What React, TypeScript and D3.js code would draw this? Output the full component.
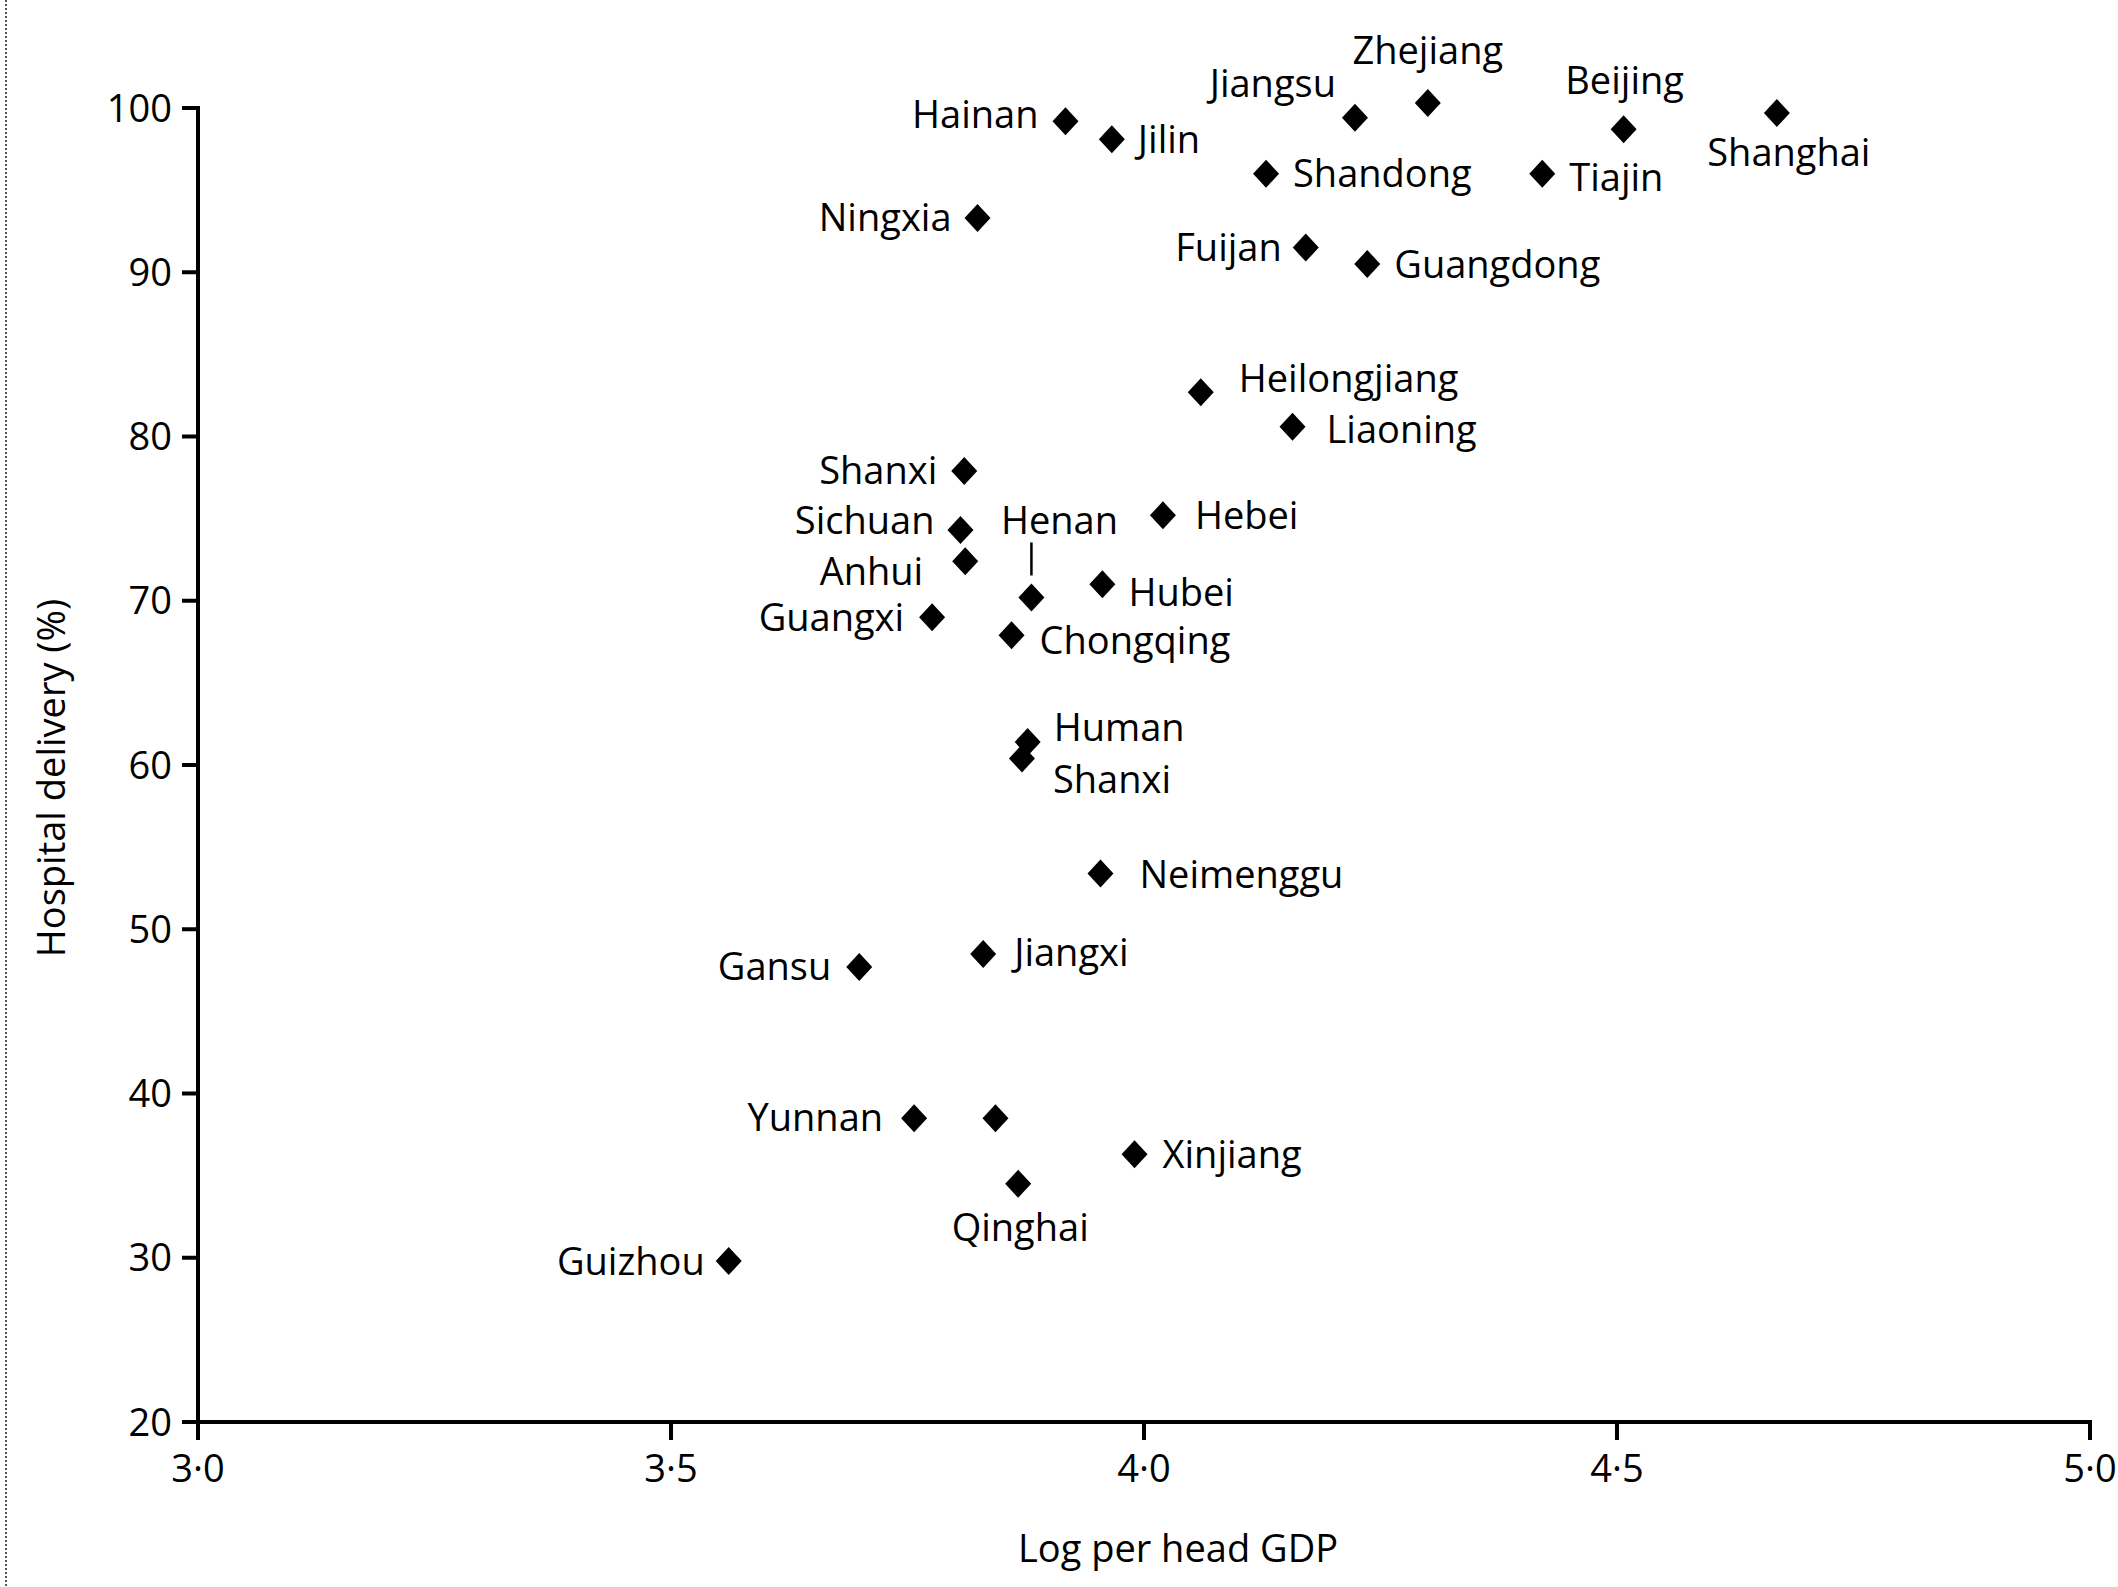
import React from "react";
import * as d3 from "d3";

// ---- data ----
const provinces = [
  "Hainan", "Jilin", "Jiangsu", "Zhejiang", "Beijing", "Shanghai", "Shandong", "Tiajin",
  "Ningxia", "Fuijan", "Guangdong", "Heilongjiang", "Liaoning", "Shanxi", "Hebei", "Sichuan",
  "Anhui", "Henan", "Hubei", "Guangxi", "Chongqing", "Human", "Shanxi ", "Neimenggu",
  "Jiangxi", "Gansu", "Yunnan", "", "Xinjiang", "Qinghai", "Guizhou",
];
const logGdp = [
  3.917, 3.966, 4.223, 4.300, 4.507, 4.669, 4.129, 4.421,
  3.824, 4.171, 4.236, 4.060, 4.157, 3.810, 4.020, 3.806,
  3.811, 3.881, 3.956, 3.776, 3.860, 3.877, 3.871, 3.954,
  3.830, 3.699, 3.757, 3.843, 3.990, 3.867, 3.561,
];
const hospitalDelivery = [
  99.2, 98.1, 99.4, 100.3, 98.7, 99.7, 96.0, 96.0,
  93.3, 91.5, 90.5, 82.7, 80.6, 77.9, 75.2, 74.3,
  72.4, 70.2, 71.0, 69.0, 67.9, 61.4, 60.4, 53.4,
  48.5, 47.7, 38.5, 38.5, 36.3, 34.5, 29.8,
];
const xTicks = [3.0, 3.5, 4.0, 4.5, 5.0];
const yTicks = [20, 30, 40, 50, 60, 70, 80, 90, 100];
const xTitle = "Log per head GDP";
const yTitle = "Hospital delivery (%)";

// ---- label layout (styling, separate from data) ----
type LL = { a: "start" | "end" | "middle"; dx: number; dy: number; leader?: boolean };
const labelLayout: LL[] = [
  { a: "end", dx: -27, dy: -7 },   // Hainan
  { a: "start", dx: 26, dy: 0 },   // Jilin
  { a: "end", dx: -19, dy: -35 },  // Jiangsu
  { a: "middle", dx: 0, dy: -53 }, // Zhejiang
  { a: "middle", dx: 1, dy: -49 }, // Beijing
  { a: "middle", dx: 12, dy: 39 }, // Shanghai
  { a: "start", dx: 27, dy: 0 },   // Shandong
  { a: "start", dx: 27, dy: 4 },   // Tiajin
  { a: "end", dx: -26, dy: -1 },   // Ningxia
  { a: "end", dx: -24, dy: 0 },    // Fuijan
  { a: "start", dx: 27, dy: 0 },   // Guangdong
  { a: "start", dx: 38, dy: -14 }, // Heilongjiang
  { a: "start", dx: 34, dy: 3 },   // Liaoning
  { a: "end", dx: -27, dy: -1 },   // Shanxi
  { a: "start", dx: 32, dy: 0 },   // Hebei
  { a: "end", dx: -26, dy: -10 },  // Sichuan
  { a: "end", dx: -42, dy: 10 },   // Anhui
  { a: "middle", dx: 28, dy: -77, leader: true }, // Henan
  { a: "start", dx: 26, dy: 8 },   // Hubei
  { a: "end", dx: -28, dy: 0 },    // Guangxi
  { a: "start", dx: 28, dy: 5 },   // Chongqing
  { a: "start", dx: 26, dy: -15 }, // Human
  { a: "start", dx: 31, dy: 21 },  // Shanxi
  { a: "start", dx: 39, dy: 1 },   // Neimenggu
  { a: "start", dx: 31, dy: -2 },  // Jiangxi
  { a: "end", dx: -28, dy: -1 },   // Gansu
  { a: "end", dx: -31, dy: -1 },   // Yunnan
  { a: "start", dx: 0, dy: 0 },    // (unlabelled)
  { a: "start", dx: 28, dy: 0 },   // Xinjiang
  { a: "middle", dx: 2, dy: 43 },  // Qinghai
  { a: "end", dx: -24, dy: 0 },    // Guizhou
];

const W = 2118;
const H = 1587;
const FONT = "'Open Sans', 'DejaVu Sans', sans-serif";
const FS = 38;

export default function App() {
  const x = d3.scaleLinear().domain([3, 5]).range([198, 2090]);
  const y = d3.scaleLinear().domain([20, 100]).range([1422, 108]);
  const fmt = (v: number) => d3.format(".1f")(v).replace(".", "\u00B7");

  const diamond = (cx: number, cy: number) => {
    const p = d3.path();
    const hw = 13, hh = 14;
    p.moveTo(cx, cy - hh);
    p.lineTo(cx + hw, cy);
    p.lineTo(cx, cy + hh);
    p.lineTo(cx - hw, cy);
    p.closePath();
    return p.toString();
  };

  const x0 = x(3);
  const y0 = y(20);

  return (
    <svg
      width={W}
      height={H}
      viewBox={`0 0 ${W} ${H}`}
      style={{ position: "absolute", left: 0, top: 0, background: "#fff" }}
      fontFamily={FONT}
    >
      <rect x={0} y={0} width={W} height={H} fill="#fff" />
      {/* scan border dotted line */}
      <line x1={6} x2={6} y1={0} y2={H} stroke="#555" strokeWidth={2} strokeDasharray="2,2" />

      {/* y axis */}
      <line x1={x0} x2={x0} y1={y(100) - 2} y2={y0 + 2} stroke="#000" strokeWidth={4} />
      {yTicks.map((t) => (
        <g key={"y" + t}>
          <line x1={x0 - 16} x2={x0} y1={y(t)} y2={y(t)} stroke="#000" strokeWidth={4} />
          <text x={x0 - 26} y={y(t)} dy="0.36em" textAnchor="end" fontSize={FS} fill="#000">
            {t}
          </text>
        </g>
      ))}

      {/* x axis */}
      <line x1={x0 - 2} x2={x(5) + 2} y1={y0} y2={y0} stroke="#000" strokeWidth={4} />
      {xTicks.map((t) => (
        <g key={"x" + t}>
          <line x1={x(t)} x2={x(t)} y1={y0} y2={y0 + 18} stroke="#000" strokeWidth={4} />
          <text x={x(t)} y={y0 + 46} dy="0.36em" textAnchor="middle" fontSize={FS} fill="#000">
            {fmt(t)}
          </text>
        </g>
      ))}

      {/* axis titles */}
      <text x={1178} y={1562} textAnchor="middle" fontSize={FS} fill="#000">
        {xTitle}
      </text>
      <text
        transform={`translate(51, 778) rotate(-90)`}
        dy="0.36em"
        textAnchor="middle"
        fontSize={FS}
        fill="#000"
      >
        {yTitle}
      </text>

      {/* points */}
      {logGdp.map((v, i) => {
        const cx = x(v);
        const cy = y(hospitalDelivery[i]);
        const ll = labelLayout[i];
        return (
          <g key={"p" + i}>
            <path d={diamond(cx, cy)} fill="#000" />
            {provinces[i].trim() !== "" && (
              <text
                x={cx + ll.dx}
                y={cy + ll.dy}
                dy="0.36em"
                textAnchor={ll.a}
                fontSize={FS}
                fill="#000"
              >
                {provinces[i].trim()}
              </text>
            )}
            {ll.leader && (
              <line x1={cx} x2={cx} y1={cy - 55} y2={cy - 22} stroke="#000" strokeWidth={2.5} />
            )}
          </g>
        );
      })}
    </svg>
  );
}
